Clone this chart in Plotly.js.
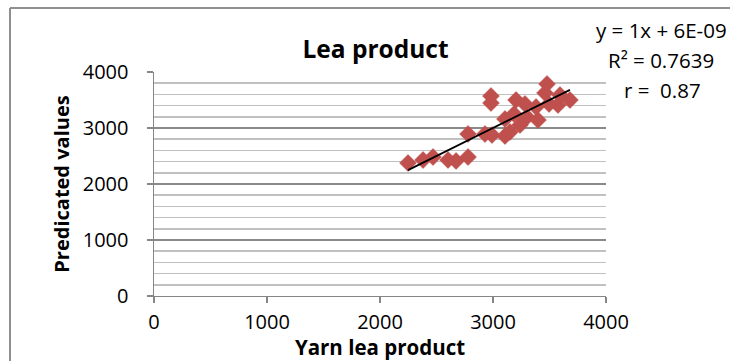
<!DOCTYPE html>
<html>
<head>
<meta charset="utf-8">
<script src="https://cdn.plot.ly/plotly-3.0.1.min.js"></script>
<style>
html,body{margin:0;padding:0;background:#fff;}
#chart{width:730px;height:361px;}
</style>
</head>
<body>
<div id="chart"></div>
<script>
// Data
const yarnLea = [2248, 2381, 2469, 2602, 2673, 2779, 2779, 2929, 2991, 3106, 3150, 3106, 3186, 2982, 2982, 3204, 3283, 3301, 3398, 3381, 3478, 3460, 3496, 3575, 3681, 3593, 3239];
const predicted = [2375, 2429, 2482, 2429, 2411, 2482, 2893, 2893, 2875, 2857, 2929, 3161, 3250, 3571, 3446, 3500, 3429, 3196, 3143, 3375, 3786, 3625, 3429, 3411, 3500, 3589, 3054];
const trendSlope = 1;
const trendIntercept = 6e-9;
const eqLines = ["y = 1x + 6E-09", "R² = 0.7639", "r =  0.87"];
const yTicks = [0, 1000, 2000, 3000, 4000];
const xTicks = [0, 1000, 2000, 3000, 4000];

const xMin = Math.min(...yarnLea), xMax = Math.max(...yarnLea);
const FONT = "'Open Sans', Lato, sans-serif";

const traces = [
  {
    x: yarnLea, y: predicted, type: 'scatter', mode: 'markers',
    marker: {symbol: 'diamond', size: 13, color: '#C0504D', line: {color: '#B9504D', width: 0.5}},
    hoverinfo: 'skip'
  },
  {
    x: [xMin, xMax], y: [trendSlope * xMin + trendIntercept, trendSlope * xMax + trendIntercept],
    type: 'scatter', mode: 'lines', line: {color: '#000000', width: 1.8}, hoverinfo: 'skip'
  }
];

const annX = [594, 606, 622];
const annY = [30, 60, 90];

const layout = {
  width: 730, height: 361,
  margin: {l: 154, r: 124, t: 72, b: 65, pad: 0},
  paper_bgcolor: '#ffffff', plot_bgcolor: '#ffffff',
  showlegend: false,
  font: {family: FONT, color: '#000000', size: 18},
  title: {text: '<b>Lea product</b>', font: {family: FONT, size: 24.5, color: '#000'}, x: 0.490, xanchor: 'center', y: 0.838, yanchor: 'bottom', xref: 'paper', yref: 'container'},
  xaxis: {
    range: [0, 4000], tickvals: xTicks, ticktext: xTicks.map(String),
    showgrid: false, zeroline: false, showline: true, linecolor: '#868686', linewidth: 1.3,
    ticks: 'outside', ticklen: 6, tickcolor: '#868686', tickwidth: 1.3,
    tickfont: {family: FONT, size: 20, color: '#000'},
    ticklabelstandoff: 2,
    title: {text: '<b>Yarn lea product</b>', font: {family: FONT, size: 20.5, color: '#000'}, standoff: 2},
    fixedrange: true
  },
  yaxis: {
    range: [0, 4000], tickvals: yTicks, ticktext: yTicks.map(String),
    showgrid: true, gridcolor: '#8a8a8a', gridwidth: 1.5,
    minor: {dtick: 200, showgrid: true, gridcolor: '#c0c0c0', gridwidth: 1.5, ticks: ''},
    zeroline: false, showline: true, linecolor: '#868686', linewidth: 1.5,
    ticks: 'outside', ticklen: 6, tickcolor: '#868686', tickwidth: 1.3,
    tickfont: {family: FONT, size: 20, color: '#000'},
    ticklabelstandoff: 14,
    title: {text: '<b>Predicated values</b>', font: {family: FONT, size: 20, color: '#000'}, standoff: 8},
    fixedrange: true
  },
  annotations: eqLines.map((t, i) => ({
    text: t, xref: 'paper', yref: 'paper', showarrow: false,
    x: (annX[i] - 154) / 452, y: (296 - annY[i]) / 224, xanchor: 'left', yanchor: 'middle',
    font: {family: FONT, size: 20.5, color: '#000'}
  })),
  shapes: [
    {type: 'line', xref: 'paper', yref: 'paper', x0: -0.3186, x1: -0.3186, y0: 1.2857, y1: -0.4, line: {color: '#8f8f8f', width: 2}},
    {type: 'line', xref: 'paper', yref: 'paper', x0: -0.3186, x1: 1.4, y0: 1.2857, y1: 1.2857, line: {color: '#8f8f8f', width: 2}}
  ]
};

Plotly.newPlot('chart', traces, layout, {staticPlot: true, displayModeBar: false});
</script>
</body>
</html>
